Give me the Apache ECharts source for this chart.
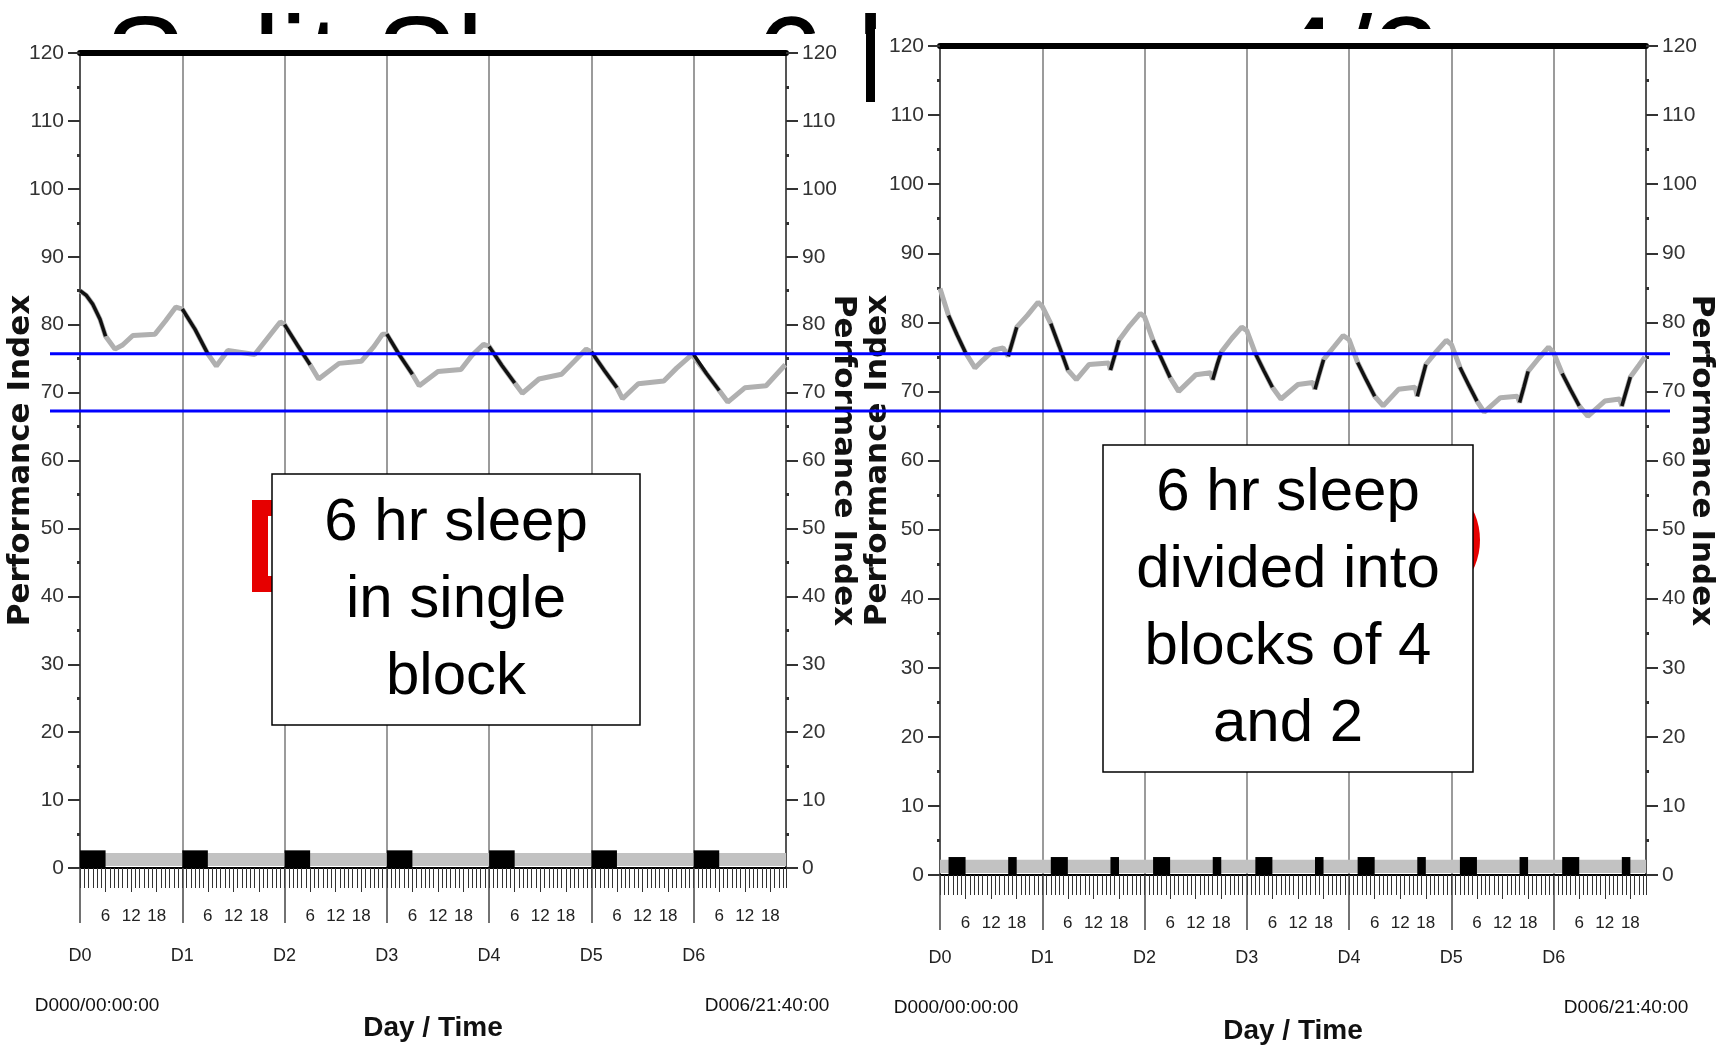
<!DOCTYPE html>
<html><head><meta charset="utf-8">
<script src="https://cdn.jsdelivr.net/npm/echarts@6/dist/echarts.min.js"></script>
<style>html,body{margin:0;padding:0;background:#fff}#c{width:1723px;height:1053px}</style>
</head><body><div id="c"></div>
<script>
// ---------- data ----------
const titleText = 'Split Sleep: 6 hours - 4/2';
const xName = 'Day / Time';
const yName = 'Performance Index';
const startLabel = 'D000/00:00:00';
const endLabel = 'D006/21:40:00';
const xEndHour = 165.67;           // D006/21:40:00 in hours
const dayTicks = [0, 24, 48, 72, 96, 120, 144];
const dayLabels = ['D0', 'D1', 'D2', 'D3', 'D4', 'D5', 'D6'];
const hourOffsets = [6, 12, 18];
const refLines = [75.7, 67.3];     // blue reference lines
const boxLeftText = ['6 hr sleep', 'in single', 'block'];
const boxRightText = ['6 hr sleep', 'divided into', 'blocks of 4', 'and 2'];

// left: 6 h sleep in one block
const leftSleep = [[0,6],[24,30],[48,54],[72,78],[96,102],[120,126],[144,150]];
const leftTime = [0,1.5,3,4.7,6, 8.2,10,12.4,17.6,20,22.5,
  24,27,30, 32,34.7,41,44,47,
  48,51,54, 56,60.8,66,69,71,
  72,75,78, 79.6,84,89.4,92,94.7,
  96,99,102, 103.8,107.7,113,116,118.8,
  120,123,126, 127.3,131,137,140,143.6,
  144,147,150, 152,156,161,165.5];
const leftPerf = [85,84.3,83,80.8,78.3, 76.4,77,78.4,78.6,80.5,82.6,
  82.3,79.3,75.7, 73.9,76.2,75.6,78,80.4,
  80,77,74.1, 72,74.3,74.6,76.8,78.6,
  78.6,75.5,72.7, 71,73.1,73.4,75.5,77.1,
  76.8,74,71.4, 69.9,72,72.7,74.6,76.4,
  76,73.3,70.7, 69.1,71.3,71.7,73.6,75.6,
  75.6,72.8,70.3, 68.6,70.7,71,74.1];

// right: 6 h sleep split into 4 h + 2 h
const rightSleep = [[2,6],[16,18],[26,30],[40,42],[50,54],[64,66],[74,78],[88,90],
  [98,102],[112,114],[122,126],[136,138],[146,150],[160,162]];
const rightTime = [0,2,4,6, 8.2,10,12.7,14.8, 16,17,18, 20.5,23,
  24,26,28,30, 32,35,39.6, 40,41,42, 44.5,47,
  48,50,52,54, 56,60,63.5, 64,65,66, 68.5,70.8,
  72,74,76,78, 80,84,87.5, 88,89,90, 92.5,94.6,
  96,98,100,102, 104,107.6,111.5, 112,113,114, 116.5,118.8,
  120,122,124,126, 127.7,131.5,135.5, 136,137,138, 140.5,142.8,
  144,146,148,150, 152,156,159.5, 160,161,162, 164,165.4];
const rightPerf = [84.9,81,78.2,75.6, 73.4,74.5,76,76.3, 75.1,77.2,79.3, 81,82.9,
  82.3,79.8,76.5,73.1, 71.7,73.9,74.1, 73.1,75.2,77.4, 79.5,81.3,
  80.8,77.4,74.7,72, 70,72.4,72.7, 71.7,73.8,75.7, 77.7,79.3,
  78.8,75.5,73,70.6, 68.9,71,71.3, 70.3,72.5,74.6, 76.5,78.1,
  77.5,74.2,71.7,69.3, 67.9,70.3,70.6, 69.3,71.6,73.9, 75.8,77.4,
  76.8,73.5,71,68.6, 67,69.1,69.3, 68.4,70.6,72.9, 74.8,76.4,
  75.6,72.6,70.2,67.9, 66.4,68.6,68.9, 67.9,70,72.1, 73.8,75];

// ---------- build ----------
const NARROW = "'Liberation Sans Narrow','Liberation Sans',Arial,sans-serif";
const hourTickValues = [];
dayTicks.forEach(d => hourOffsets.forEach(h => { if (d + h <= xEndHour) hourTickValues.push(d + h); }));

function inSleep(t, sleep) { return sleep.some(s => t >= s[0] - 1e-9 && t <= s[1] + 1e-9); }

function chartParts(g, time, perf, sleep, o) {
  const xb = g * 4, yb = g * 2;
  const xAxes = [
    { gridIndex: g, type: 'value', position: 'bottom', min: 0, max: xEndHour, interval: 1, z: 5,
      axisLine: { show: true, onZero: false, lineStyle: { color: '#000', width: 2 } },
      axisTick: { show: true, length: 20, lineStyle: { color: '#333', width: 1 } },
      axisLabel: { show: false }, splitLine: { show: false },
      name: xName, nameLocation: 'middle', nameGap: o.nameGap, nameMoveOverlap: false,
      nameTextStyle: { fontFamily: NARROW, fontWeight: 'bold', fontSize: 28, color: '#111', verticalAlign: 'middle' } },
    { gridIndex: g, type: 'value', position: 'bottom', min: 0, max: xEndHour, interval: 6, z: 5,
      axisLine: { show: false, onZero: false },
      axisTick: { show: true, length: 24, customValues: hourTickValues, lineStyle: { color: '#333', width: 1 } },
      axisLabel: { show: true, margin: 40, customValues: hourTickValues, fontFamily: NARROW, fontSize: 17, color: '#222',
        formatter: v => (Math.abs(v % 24) < 1e-6 || Math.abs(v % 6) > 1e-6) ? '' : String(Math.round(v % 24)) },
      splitLine: { show: false } },
    { gridIndex: g, type: 'value', position: 'bottom', min: 0, max: xEndHour, interval: 24, z: 5,
      axisLine: { show: false, onZero: false },
      axisTick: { show: true, length: 55, customValues: dayTicks, lineStyle: { color: '#444', width: 1.5 } },
      axisLabel: { show: true, margin: o.dayMargin, customValues: dayTicks, fontFamily: NARROW, fontSize: 18, color: '#222',
        formatter: v => { const i = dayTicks.indexOf(v); return i >= 0 ? dayLabels[i] : ''; } },
      splitLine: { show: true, lineStyle: { color: '#7a7a7a', width: 1.5 } } },
    { gridIndex: g, type: 'value', min: 0, max: xEndHour, position: 'top', z: 5,
      axisLine: { show: true, onZero: false, lineStyle: { color: '#000', width: 6 } },
      axisTick: { show: false }, axisLabel: { show: false }, splitLine: { show: false } }
  ];
  const yCommon = { gridIndex: g, type: 'value', min: 0, max: 120, interval: 10, z: 5,
    axisLine: { show: true, onZero: false, lineStyle: { color: '#555', width: 2 } },
    axisTick: { show: true, length: 12, lineStyle: { color: '#333', width: 2 } },
    minorTick: { show: true, splitNumber: 2, length: 3, lineStyle: { color: '#333', width: 3 } },
    axisLabel: { margin: 16, fontFamily: NARROW, fontSize: 21, color: '#333' },
    splitLine: { show: false },
    name: yName, nameLocation: 'middle', nameMoveOverlap: false,
    nameTextStyle: { fontFamily: "'DejaVu Sans',sans-serif", fontWeight: 'bold', fontSize: 31, color: '#111' } };
  const yAxes = [
    Object.assign({}, yCommon, { position: 'left', nameRotate: 90, nameGap: o.gapL }),
    Object.assign({}, yCommon, { position: 'right', nameRotate: -90, nameGap: o.gapR })
  ];
  const pts = time.map((t, i) => [t, perf[i]]);
  const sleepPts = time.map((t, i) => inSleep(t, sleep) ? [t, perf[i]] : null);
  const barItems = [[0, xEndHour, 0]].concat(sleep.map(s => [s[0], s[1], 1]));
  const series = [
    { type: 'line', xAxisIndex: xb, yAxisIndex: yb, data: pts, showSymbol: false, z: 10,
      lineStyle: { color: '#b0b0b0', width: 5 }, animation: false },
    { type: 'line', xAxisIndex: xb, yAxisIndex: yb, data: sleepPts, showSymbol: false, z: 11,
      connectNulls: false, lineStyle: { color: '#111', width: 3.5 }, animation: false },
    { type: 'custom', xAxisIndex: xb, yAxisIndex: yb, data: barItems, z: 12, animation: false,
      encode: { x: [0, 1], y: 2 },
      renderItem: (params, api) => {
        const kind = api.value(2);
        const p0 = api.coord([api.value(0), kind ? 2.6 : 2.2]);
        const p1 = api.coord([api.value(1), kind ? 0 : 0.3]);
        return { type: 'rect', shape: { x: p0[0], y: p0[1], width: p1[0] - p0[0], height: p1[1] - p0[1] },
          style: { fill: kind ? '#000' : '#c2c2c2' } };
      } }
  ];
  return { xAxes, yAxes, series };
}

const L = chartParts(0, leftTime, leftPerf, leftSleep, { nameGap: 160, dayMargin: 79, gapL: 44, gapR: 42 });
const R = chartParts(1, rightTime, rightPerf, rightSleep, { nameGap: 156, dayMargin: 74, gapL: 47, gapR: 40 });

const grids = [
  { left: 80, top: 53, width: 706, height: 815, outerBoundsMode: 'none', containLabel: false },
  { left: 940, top: 46, width: 706, height: 829, outerBoundsMode: 'none', containLabel: false },
  { left: 50, top: 53, width: 1620, height: 815, outerBoundsMode: 'none', containLabel: false }
];
const overlayX = { gridIndex: 2, type: 'value', min: 0, max: 1, show: false };
const overlayY = { gridIndex: 2, type: 'value', min: 0, max: 120, show: false };
const blueSeries = refLines.map(v => ({ type: 'line', xAxisIndex: 8, yAxisIndex: 4, data: [[0, v], [1, v]],
  showSymbol: false, z: 20, lineStyle: { color: '#0000ff', width: 3 }, animation: false }));

function txt(x, y, s, size, bold, align) {
  return { type: 'text', x, y, z: 8, style: { text: s, font: (bold ? 'bold ' : '') + size + 'px ' + NARROW,
    fill: '#111', textAlign: align || 'center', textVerticalAlign: 'middle' } };
}

const graphic = [
  { type: 'text', x: 104, y: 7, z: 1, style: { text: titleText, font: '122px "Liberation Sans",Arial,sans-serif', fill: '#000', textVerticalAlign: 'top' } },
  { type: 'rect', z: 2, shape: { x: 0, y: 34, width: 866, height: 1020 }, style: { fill: '#fff' } },
  { type: 'rect', z: 2, shape: { x: 875, y: 29, width: 848, height: 1025 }, style: { fill: '#fff' } },
  txt(97, 1006, startLabel, 19, false), txt(767, 1006, endLabel, 19, false),
  txt(956, 1008, startLabel, 19, false), txt(1626, 1008, endLabel, 19, false),
  // red shapes partly hidden behind the boxes
  { type: 'rect', z: 30, shape: { x: 260, y: 508, width: 200, height: 76 }, style: { fill: 'none', stroke: '#e60000', lineWidth: 16 } },
  { type: 'circle', z: 30, shape: { cx: 1412, cy: 540, r: 68 }, style: { fill: '#e60000' } },
  // annotation boxes
  { type: 'rect', z: 40, shape: { x: 272, y: 474, width: 368, height: 251 }, style: { fill: '#fff', stroke: '#000', lineWidth: 1.5 } },
  { type: 'text', z: 41, x: 456, y: 600, style: { text: boxLeftText.join('\n'), font: '60px "Liberation Sans",Arial,sans-serif',
      lineHeight: 77, fill: '#000', textAlign: 'center', textVerticalAlign: 'middle' } },
  { type: 'rect', z: 40, shape: { x: 1103, y: 445, width: 370, height: 327 }, style: { fill: '#fff', stroke: '#000', lineWidth: 1.5 } },
  { type: 'text', z: 41, x: 1288, y: 609, style: { text: boxRightText.join('\n'), font: '60px "Liberation Sans",Arial,sans-serif',
      lineHeight: 77, fill: '#000', textAlign: 'center', textVerticalAlign: 'middle' } }
];

const chart = echarts.init(document.getElementById('c'), null, { renderer: 'canvas' });
chart.setOption({
  backgroundColor: '#fff',
  animation: false,
  grid: grids,
  xAxis: L.xAxes.concat(R.xAxes, [overlayX]),
  yAxis: L.yAxes.concat(R.yAxes, [overlayY]),
  series: L.series.concat(R.series, blueSeries),
  graphic: graphic
});
</script></body></html>
